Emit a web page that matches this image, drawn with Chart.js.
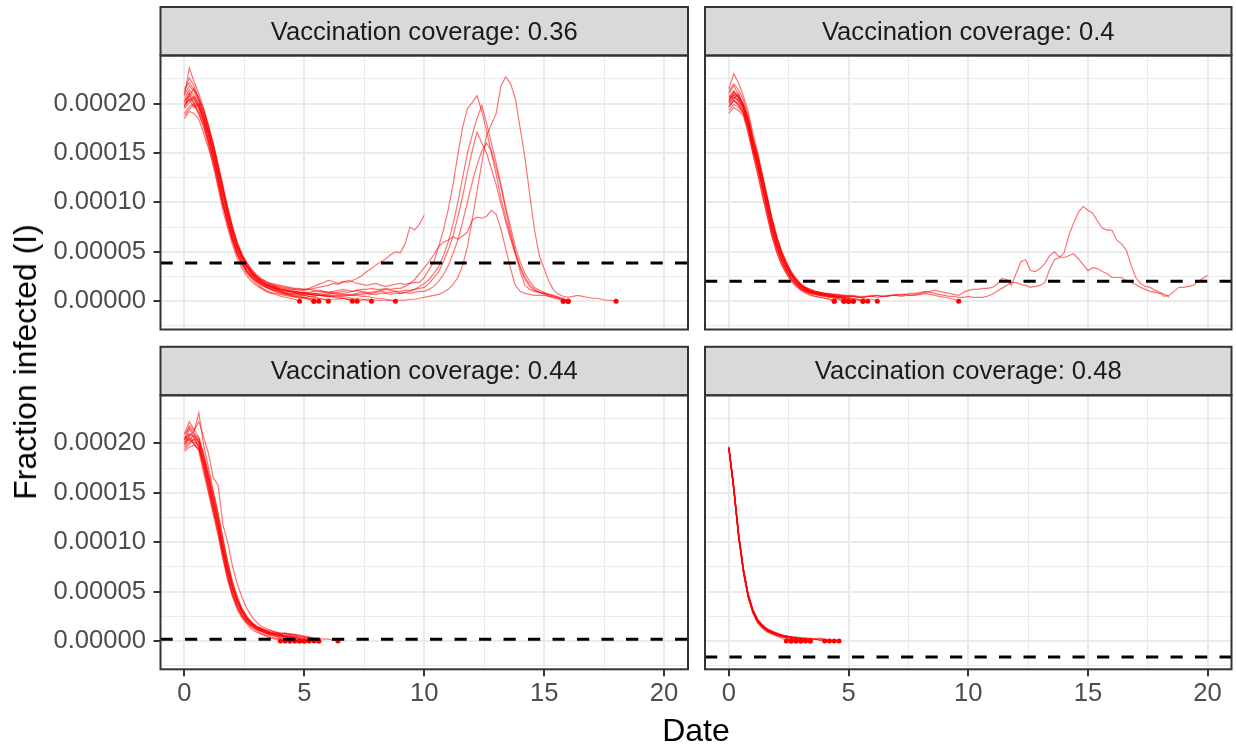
<!DOCTYPE html>
<html>
<head>
<meta charset="utf-8">
<script src="https://cdn.jsdelivr.net/npm/chart.js@4.4.1/dist/chart.umd.min.js"></script>
<style>
    body { margin: 0; background: #fff; width: 1236px; height: 744px; position: relative; overflow: hidden; font-family: "Liberation Sans", Arial, sans-serif; }
    canvas { position: absolute; left: 0; top: 0; }
    #ytitle { position: absolute; left: 25px; top: 362px; font-size: 32px; line-height: 32px; white-space: nowrap; transform: translate(-50%, -50%) rotate(-90deg); color: #000; }
    #xtitle { position: absolute; left: 696px; top: 714px; font-size: 32px; line-height: 32px; white-space: nowrap; transform: translateX(-50%); color: #000; }
</style>
</head>
<body>
<canvas id="panel1" width="1236" height="744"></canvas>
<canvas id="panel2" width="1236" height="744"></canvas>
<canvas id="panel3" width="1236" height="744"></canvas>
<canvas id="panel4" width="1236" height="744"></canvas>
<div id="ytitle">Fraction infected (I)</div>
<div id="xtitle">Date</div>
<script>
// time grid (days) shared by every run
var days = [0, 0.2, 0.4, 0.6, 0.8, 1, 1.2, 1.4, 1.6, 1.8,
    2, 2.2, 2.4, 2.6, 2.8, 3, 3.2, 3.4, 3.6, 3.8,
    4, 4.2, 4.4, 4.6, 4.8, 5, 5.2, 5.4, 5.6, 5.8,
    6, 6.2, 6.4, 6.6, 6.8, 7, 7.2, 7.4, 7.6, 7.8,
    8, 8.2, 8.4, 8.6, 8.8, 9, 9.2, 9.4, 9.6, 9.8,
    10, 10.2, 10.4, 10.6, 10.8, 11, 11.2, 11.4, 11.6, 11.8,
    12, 12.2, 12.4, 12.6, 12.8, 13, 13.2, 13.4, 13.6, 13.8,
    14, 14.2, 14.4, 14.6, 14.8, 15, 15.2, 15.4, 15.6, 15.8,
    16, 16.2, 16.4, 16.6, 16.8, 17, 17.2, 17.4, 17.6, 17.8,
    18, 18.2, 18.4, 18.6, 18.8, 19, 19.2, 19.4, 19.6, 19.8, 20];

// fraction infected, in millionths
var unit = 1e-6;

var runs036 = [
    [196,210,199,190,176,158,137,115,92,74,57,43,33,26,20,16,13,10,8,7,5,4,3,2,0],
    [205,214,208,201,190,170,153,131,110,88,70,54,42,33,27,22,18,15,12,10,8,7,6,4,3,3,2,0],
    [212,226,218,205,188,172,156,136,112,92,71,55,44,35,28,23,19,16,14,12,10,8,6,5,4,3,2,0],
    [190,197,200,192,181,163,144,124,101,82,64,49,39,31,26,21,18,15,13,12,10,8,7,6,5,4,3,2,0],
    [203,208,215,204,194,178,160,139,118,95,76,58,46,37,30,24,20,17,15,13,11,10,9,8,7,6,5,4,3,2,0],
    [198,204,196,200,183,167,149,126,102,83,65,52,41,34,28,23,19,17,15,14,12,11,10,9,8,8,7,6,6,5,5,4,3,3,2,0],
    [208,236,222,210,195,176,158,135,114,90,71,56,45,36,29,24,21,18,16,15,13,12,11,10,9,8,8,7,6,6,5,5,4,3,2,2,0],
    [185,192,190,184,170,155,139,118,96,78,61,47,38,30,25,21,18,16,14,13,12,11,10,10,9,9,8,8,7,7,6,6,5,5,4,3,3,2,1,0],
    [200,203,207,199,187,171,152,130,108,87,69,55,44,36,30,25,22,20,18,17,16,15,14,13,13,12,12,11,10,10,9,9,8,8,7,6,6,5,5,4,3,3,2,1,0],
    [202,211,205,196,186,170,151,132,110,90,72,58,47,39,32,27,23,20,18,16,15,14,13,12,12,
        11,12,13,14,15,16,18,17,20,19,21,23,26,30,33,37,40,43,47,50,49,58,75,72,78,87],
    [195,201,206,198,182,165,146,124,100,80,62,48,37,29,23,18,14,11,9,8,7,6,5,5,4,
        4,3,3,3,2,2,2,2,3,2,2,1,1,2,2,1,1,1,1,1,1,1,2,2,3,
        4,5,6,7,9,12,17,24,36,55,82,111,140,168,179,190,218,227,220,205,
        175,145,108,72,46,33,20,11,7,5,4,5,6,5,4,3,3,2,1,1,0],
    [209,218,212,203,191,175,158,138,116,95,76,60,48,39,32,26,22,19,17,15,14,13,12,12,11,
        12,13,15,17,19,21,20,18,19,21,20,18,17,16,17,18,16,15,16,17,18,17,18,19,
        19,24,32,40,55,72,93,118,148,176,195,201,208,192,172,150,128,104,84,66,
        48,30,16,12,10,9,8,6,5,3,0],
    [198,205,201,195,180,162,144,122,99,80,63,49,39,31,25,20,17,14,12,11,10,9,8,8,7,
        7,7,8,8,9,8,8,9,10,9,10,11,10,9,9,10,11,12,11,10,8,9,10,12,15,
        18,22,28,35,46,60,78,100,125,150,168,185,198,180,160,140,118,95,75,55,
        40,28,20,14,11,9,7,6,4,3,0],
    [215,221,214,206,193,177,159,137,114,93,74,58,46,37,30,25,21,18,16,14,12,11,10,9,8,
        8,7,7,6,6,7,8,7,6,6,7,8,9,8,8,9,10,9,9,10,10,11,11,12,13,
        14,18,24,30,40,52,66,85,106,130,152,171,160,150,134,118,98,80,63,48,
        35,24,17,12,9,7,5,3,2,0],
    [188,194,199,189,177,161,142,120,98,79,61,47,37,29,24,20,16,14,12,10,9,8,7,7,6,
        6,5,5,6,6,5,5,6,7,6,6,7,7,8,7,7,8,8,7,8,8,9,8,9,10,
        10,12,15,20,27,36,48,62,80,100,120,138,152,160,152,135,115,92,70,50,
        34,22,15,11,9,8,7,5,4,2,0],
    [201,207,203,197,185,169,149,128,105,86,67,53,43,35,29,24,20,17,15,13,12,11,10,10,9,
        9,9,10,11,10,9,10,11,12,11,10,11,12,12,13,12,12,13,12,13,
        13,15,18,22,28,34,40,47,55,60,62,65,63,66,70,82,85,84,86,92,
        88,73,53,33,16,10,8,7,6,6,6,5,4,3,2,0]
];

var runs040 = [
    [198,204,200,190,172,150,130,108,86,66,50,37,28,20,15,11,8,6,5,4,3,2,0],
    [210,218,209,199,183,160,141,117,95,72,55,41,31,23,17,12,9,7,5,4,3,2,0],
    [202,212,206,197,181,159,139,119,98,76,59,45,35,26,20,15,12,9,8,6,5,4,3,2,0],
    [190,196,193,188,170,149,128,106,86,65,49,37,28,21,16,12,10,8,7,6,5,4,3,2,0],
    [215,230,221,208,192,170,151,128,106,83,64,49,38,28,21,16,13,10,9,8,7,6,5,4,3,0],
    [204,209,203,196,182,161,144,123,101,79,61,47,36,27,20,15,12,10,9,8,7,6,5,3,2,0],
    [208,205,210,199,185,163,147,125,104,82,63,48,37,28,21,16,12,10,8,7,6,5,4,4,3,0],
    [196,203,198,192,178,157,139,116,93,71,54,41,31,23,18,13,10,9,8,7,6,5,5,4,3,2,0],
    [212,220,214,204,188,166,148,127,105,84,66,51,40,30,23,17,13,11,9,8,7,6,5,4,3,2,0],
    [200,206,204,195,177,154,134,112,90,69,53,40,30,22,17,13,10,8,7,6,6,5,5,4,4,3,2,1,0],
    [207,213,207,200,186,165,147,126,104,82,64,50,39,30,23,18,14,12,10,9,8,7,6,5,4,3,2,2,0],
    [193,199,196,190,175,153,136,115,94,73,56,43,33,25,19,14,11,9,8,7,6,6,5,5,4,4,3,2,1,0],
    [205,211,207,198,183,162,145,124,103,81,63,49,38,29,22,17,14,12,10,9,8,7,7,6,6,5,5,4,3,2,2,0],
    [201,207,202,194,179,157,138,117,96,75,58,45,35,27,21,16,13,11,9,8,7,7,6,6,5,5,5,4,4,5,
        5,6,5,5,6,6,7,7,6,6,7,8,7,6,5,4,3,2,0],
    [203,209,206,197,181,160,142,120,99,78,60,46,36,27,21,16,13,11,10,9,8,8,7,7,6,
        6,6,5,5,5,6,6,5,6,6,7,6,7,8,8,9,10,9,8,7,6,5,5,
        4,4,5,4,4,4,5,7,10,13,16,19,19,17,16,14,15,16,19,32,42,44,49,66,79,90,96,92,
        89,81,74,72,72,62,58,52,37,24,18,15,14,11,9,7,4],
    [197,203,199,192,177,155,136,114,93,72,55,42,32,24,18,14,11,9,8,7,7,6,6,5,5,
        5,5,4,4,5,5,4,5,5,6,6,5,6,6,7,8,9,10,11,10,9,8,7,
        6,9,11,12,12,13,13,14,17,23,22,16,28,40,42,31,30,33,38,46,50,45,44,46,48,43,
        37,31,34,33,30,28,24,24,24,21,19,17,14,12,10,9,8,5,6,10,14,14,15,16,20,23,26]
];

var runs044 = [
    [198,204,200,192,170,150,128,107,83,62,45,32,23,17,12,9,7,5,3,2,0],
    [205,210,207,201,182,160,136,115,90,68,50,36,26,19,14,11,8,6,4,3,2,0],
    [210,222,214,206,188,168,146,125,99,76,57,42,31,23,17,13,10,8,6,5,4,2,0],
    [194,199,205,196,176,155,133,112,88,66,48,35,26,19,15,12,10,8,6,5,3,2,0],
    [201,208,212,231,198,176,152,130,104,80,60,44,32,24,18,14,11,9,7,6,5,4,3,0],
    [207,203,209,202,185,165,142,121,96,73,54,40,30,22,17,14,12,10,8,7,6,5,4,3,0],
    [192,196,198,194,174,152,131,110,85,63,46,34,25,19,15,12,10,8,7,6,5,4,3,2,0],
    [203,214,208,203,186,166,145,124,98,75,56,41,30,22,17,14,12,10,8,7,6,5,4,3,2,0],
    [199,207,201,198,179,158,136,117,92,71,53,39,29,22,17,13,11,9,8,8,7,8,7,6,3,0],
    [209,216,210,205,190,171,150,129,104,80,60,45,33,25,19,15,12,10,8,7,6,5,5,4,3,2,0],
    [196,201,204,197,178,157,135,114,89,67,49,36,27,20,16,13,11,9,8,7,6,5,5,4,3,3,2,0],
    [204,218,213,222,206,190,165,158,118,100,76,58,44,33,25,19,15,13,11,9,8,7,7,6,5,4,3,2,0],
    [200,205,199,195,182,162,140,119,94,72,54,40,30,23,18,15,13,11,10,9,8,8,7,7,6,5,4,3,0],
    [203,209,206,200,183,164,141,121,95,73,55,41,31,24,19,15,13,11,9,8,7,6,6,5,5,4,4,3,3,2,2,1,0]
];

var runs048 = [
    [195,153,106,70,44,28,18,13,9,7,5,3,0],
    [196,156,109,73,47,31,20,14,10,8,6,4,3,0],
    [194,154,107,72,45,29,19,14,11,8,6,5,3,0],
    [195,155,110,74,48,32,21,15,11,9,7,5,4,3,0],
    [197,157,108,71,46,30,20,15,12,9,7,6,4,3,0],
    [195,154,106,71,45,29,20,14,10,8,7,5,4,3,2,0],
    [193,153,107,73,48,31,21,16,12,9,7,6,4,3,2,0],
    [196,156,109,72,46,30,20,14,11,8,7,5,4,4,3,2,0],
    [195,155,108,73,47,31,22,16,12,10,8,6,5,4,3,2,2,0],
    [194,154,107,70,45,29,19,14,11,8,6,5,4,3,3,2,1,0],
    [196,157,110,74,48,32,22,16,12,9,7,6,5,4,3,3,2,2,2,1,0],
    [195,155,108,72,47,30,21,15,11,9,7,6,5,4,4,3,3,2,2,1,1,0],
    [194,154,106,71,46,30,20,15,12,10,8,6,5,4,4,3,3,3,2,2,1,1,0],
    [195,156,109,73,47,31,21,16,12,9,7,6,5,4,3,3,2,2,2,3,2,1,1,0]
];

var coverages = ["0.36", "0.4", "0.44", "0.48"];
var thresholds = [3.86e-5, 2.03e-5, 1.8e-6, -1.62e-5];

var xMajor = [0, 5, 10, 15, 20];
var xMinor = [2.5, 7.5, 12.5, 17.5];
var yMajor = [0, 5e-5, 1e-4, 1.5e-4, 2e-4];
var yMinor = [-2.5e-5, 2.5e-5, 7.5e-5, 1.25e-4, 1.75e-4, 2.25e-4];

var X_MIN = -1, X_MAX = 21;
var Y_MIN = -2.86e-5, Y_MAX = 2.486e-4;

var W = 1236, H = 744;
var FONT = "'Liberation Sans', Arial, sans-serif";

function buildTicks(major, minor) {
    var list = [];
    major.forEach(v => list.push({value: v, isMajor: true}));
    minor.forEach(v => list.push({value: v, isMajor: false}));
    list.sort((a, b) => a.value - b.value);
    return list;
}

// strip on top of each panel + the dark frame
var panelFrame = {
    id: 'panelFrame',
    afterDraw(chart, args, opts) {
        var ctx = chart.ctx, a = chart.chartArea;
        ctx.save();
        ctx.fillStyle = '#D9D9D9';
        ctx.fillRect(a.left, a.top - 48.5, a.right - a.left, 48.5);
        ctx.strokeStyle = '#333333';
        ctx.lineWidth = 2;
        ctx.strokeRect(a.left, a.top - 48.5, a.right - a.left, 48.5);
        ctx.strokeRect(a.left, a.top, a.right - a.left, a.bottom - a.top);
        ctx.fillStyle = '#1A1A1A';
        ctx.font = '25.6px ' + FONT;
        ctx.textAlign = 'center';
        ctx.textBaseline = 'middle';
        ctx.fillText(opts.text, (a.left + a.right) / 2, a.top - 23);
        ctx.restore();
    }
};

var thresholdLine = {
    id: 'thresholdLine',
    afterDatasetsDraw(chart, args, opts) {
        var ctx = chart.ctx, a = chart.chartArea;
        var y = chart.scales.y.getPixelForValue(opts.value);
        ctx.save();
        ctx.beginPath();
        ctx.rect(a.left, a.top, a.right - a.left, a.bottom - a.top);
        ctx.clip();
        ctx.beginPath();
        ctx.setLineDash([12.25, 12.25]);
        ctx.lineWidth = 3;
        ctx.strokeStyle = '#000000';
        ctx.moveTo(a.left, y);
        ctx.lineTo(a.right, y);
        ctx.stroke();
        ctx.restore();
    }
};

function makePanel(canvasId, runs, pos, box) {
    var showY = box.showY, showX = box.showX;
    var datasets = runs.map(run => ({
        data: run.map((v, i) => ({x: days[i], y: v * unit})),
        borderColor: 'rgba(255,0,0,0.55)',
        borderWidth: 1.2,
        tension: 0,
        fill: false,
        pointBackgroundColor: '#FF0000',
        pointBorderWidth: 0,
        pointRadius: function (c) {
            var d = c.dataset.data;
            return (c.dataIndex === d.length - 1 && d[c.dataIndex].y === 0) ? 2.5 : 0;
        },
        pointHoverRadius: 0
    }));

    var gridOpts = function (axisShown) {
        return {
            color: '#EBEBEB',
            lineWidth: c => (c.tick && c.tick.isMajor) ? 2 : 1,
            drawTicks: axisShown,
            tickLength: 7,
            tickWidth: 2,
            tickColor: c => (c.tick && c.tick.isMajor) ? '#333333' : 'rgba(0,0,0,0)'
        };
    };

    return new Chart(document.getElementById(canvasId), {
        type: 'line',
        data: {datasets: datasets},
        plugins: [panelFrame, thresholdLine],
        options: {
            responsive: false,
            animation: false,
            devicePixelRatio: 1,
            parsing: false,
            events: [],
            layout: {
                padding: {
                    left: showY ? 0 : box.left,
                    right: W - box.right,
                    top: box.top,
                    bottom: showX ? 0 : H - box.bottom
                }
            },
            plugins: {
                legend: {display: false},
                tooltip: {enabled: false},
                panelFrame: {text: 'Vaccination coverage: ' + coverages[pos]},
                thresholdLine: {value: thresholds[pos]}
            },
            scales: {
                x: {
                    type: 'linear',
                    min: X_MIN,
                    max: X_MAX,
                    border: {display: false},
                    grid: gridOpts(showX),
                    afterBuildTicks: s => { s.ticks = buildTicks(xMajor, xMinor); },
                    afterFit: s => { s.height = showX ? H - box.bottom : 0; },
                    ticks: {
                        display: showX,
                        autoSkip: false,
                        maxRotation: 0,
                        padding: 2.5,
                        color: '#4D4D4D',
                        font: {family: FONT, size: 25.6},
                        callback: function (v, i, ticks) { return ticks[i].isMajor ? String(v) : ''; }
                    }
                },
                y: {
                    type: 'linear',
                    min: Y_MIN,
                    max: Y_MAX,
                    border: {display: false},
                    grid: gridOpts(showY),
                    afterBuildTicks: s => { s.ticks = buildTicks(yMajor, yMinor); },
                    afterFit: s => { s.width = showY ? box.left : 0; },
                    ticks: {
                        display: showY,
                        autoSkip: false,
                        padding: 7.5,
                        color: '#4D4D4D',
                        font: {family: FONT, size: 25.6},
                        callback: function (v, i, ticks) { return ticks[i].isMajor ? Number(v).toFixed(5) : ''; }
                    }
                }
            }
        }
    });
}

makePanel('panel1', runs036, 0, {left: 160.5, right: 688, top: 55.5, bottom: 329.5, showY: true, showX: false});
makePanel('panel2', runs040, 1, {left: 705, right: 1231.5, top: 55.5, bottom: 329.5, showY: false, showX: false});
makePanel('panel3', runs044, 2, {left: 160.5, right: 688, top: 395.3, bottom: 669.3, showY: true, showX: true});
makePanel('panel4', runs048, 3, {left: 705, right: 1231.5, top: 395.3, bottom: 669.3, showY: false, showX: true});
</script>
</body>
</html>
